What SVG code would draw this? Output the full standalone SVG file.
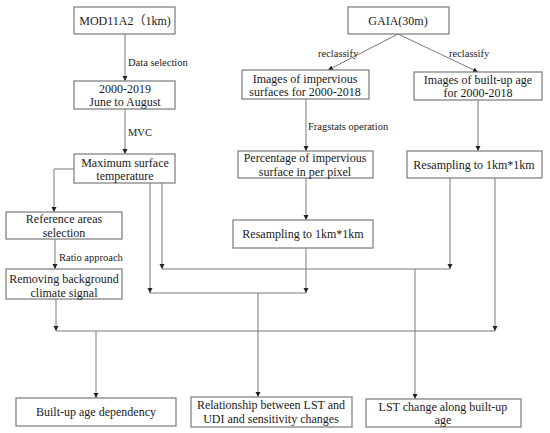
<svg xmlns="http://www.w3.org/2000/svg" width="550" height="433" viewBox="0 0 550 433">
<style>
.box{fill:#fff;stroke:#7a7a7a;stroke-width:1.2}
.t{font-family:"Liberation Serif","Times New Roman",Times,serif;font-size:12px;fill:#1a1a1a;text-anchor:middle}
.cjk{font-family:"Liberation Serif","Times New Roman","Noto Sans CJK SC",serif}
.l{font-family:"Liberation Serif","Times New Roman",Times,serif;font-size:10.5px;fill:#1a1a1a}
.c{fill:none;stroke:#7a7a7a;stroke-width:1}
</style>
<defs>
<marker id="a" markerWidth="6" markerHeight="6" refX="5" refY="3" orient="auto" markerUnits="userSpaceOnUse">
<path d="M0,0.5 L5,3 L0,5.5 Z" fill="#222"/>
</marker>
</defs>
<rect width="550" height="433" fill="#fff"/>
<g id="connectors">
<path class="c" d="M125,34 V81" marker-end="url(#a)"/>
<path class="c" d="M125,109 V154" marker-end="url(#a)"/>
<path class="c" d="M74,169 H54 V212" marker-end="url(#a)"/>
<path class="c" d="M55,239 V269" marker-end="url(#a)"/>
<path class="c" d="M56,299 V331" marker-end="url(#a)"/>
<path class="c" d="M56,331 H495"/>
<path class="c" d="M495,178 V331" marker-end="url(#a)"/>
<path class="c" d="M96,331 V398" marker-end="url(#a)"/>
<path class="c" d="M150,183 V293" marker-end="url(#a)"/>
<path class="c" d="M150,293 H306"/>
<path class="c" d="M306,248 V293" marker-end="url(#a)"/>
<path class="c" d="M258,293 V397" marker-end="url(#a)"/>
<path class="c" d="M162,183 V269" marker-end="url(#a)"/>
<path class="c" d="M162,269 H450"/>
<path class="c" d="M450,178 V269" marker-end="url(#a)"/>
<path class="c" d="M415,269 V399" marker-end="url(#a)"/>
<path class="c" d="M398,34 L328,70" marker-end="url(#a)"/>
<path class="c" d="M398,34 L478,72" marker-end="url(#a)"/>
<path class="c" d="M306,99 V151" marker-end="url(#a)"/>
<path class="c" d="M478,100 V151" marker-end="url(#a)"/>
<path class="c" d="M306,178 V220" marker-end="url(#a)"/>
<text class="l" x="128" y="66">Data selection</text>
<text class="l" x="128" y="136">MVC</text>
<text class="l" x="59" y="261">Ratio approach</text>
<text class="l" x="308" y="130">Fragstats operation</text>
<text class="l" x="318" y="57">reclassify</text>
<text class="l" x="449" y="57">reclassify</text>
</g>
<g id="mod">
<rect class="box" x="74" y="7" width="101" height="27"/>
<text class="t cjk" x="125" y="25">MOD11A2（1km)</text>
</g>
<g id="years">
<rect class="box" x="74" y="81" width="101" height="28"/>
<text class="t" x="125" y="93">2000-2019</text>
<text class="t" x="125" y="106">June to August</text>
</g>
<g id="maxtemp">
<rect class="box" x="74" y="154" width="101" height="29"/>
<text class="t" x="125" y="167">Maximum surface</text>
<text class="t" x="125" y="180">temperature</text>
</g>
<g id="reference">
<rect class="box" x="6" y="212" width="116" height="27"/>
<text class="t" x="64" y="223">Reference areas</text>
<text class="t" x="64" y="237">selection</text>
</g>
<g id="removing">
<rect class="box" x="6" y="269" width="116" height="30"/>
<text class="t" x="64" y="283">Removing background</text>
<text class="t" x="64" y="297">climate signal</text>
</g>
<g id="gaia">
<rect class="box" x="348" y="7" width="101" height="27"/>
<text class="t" x="398" y="25">GAIA(30m)</text>
</g>
<g id="impervious">
<rect class="box" x="242" y="70" width="127" height="29"/>
<text class="t" x="305" y="83">Images of impervious</text>
<text class="t" x="305" y="96">surfaces for 2000-2018</text>
</g>
<g id="builtup">
<rect class="box" x="414" y="72" width="128" height="28"/>
<text class="t" x="478" y="84">Images of built-up age</text>
<text class="t" x="478" y="97">for 2000-2018</text>
</g>
<g id="percentage">
<rect class="box" x="238" y="151" width="135" height="27"/>
<text class="t" x="305" y="162">Percentage of impervious</text>
<text class="t" x="305" y="176">surface in per pixel</text>
</g>
<g id="resample-right">
<rect class="box" x="407" y="151" width="135" height="27"/>
<text class="t" x="474" y="169">Resampling to 1km*1km</text>
</g>
<g id="resample-mid">
<rect class="box" x="233" y="220" width="140" height="28"/>
<text class="t" x="303" y="238">Resampling to 1km*1km</text>
</g>
<g id="dependency">
<rect class="box" x="16" y="398" width="160" height="28"/>
<text class="t" x="96" y="416">Built-up age dependency</text>
</g>
<g id="relationship">
<rect class="box" x="191" y="397" width="161" height="30"/>
<text class="t" x="271" y="409">Relationship between LST and</text>
<text class="t" x="271" y="423">UDI and sensitivity changes</text>
</g>
<g id="lstchange">
<rect class="box" x="366" y="399" width="155" height="28"/>
<text class="t" x="443" y="411">LST change along built-up</text>
<text class="t" x="443" y="424">age</text>
</g>
</svg>
